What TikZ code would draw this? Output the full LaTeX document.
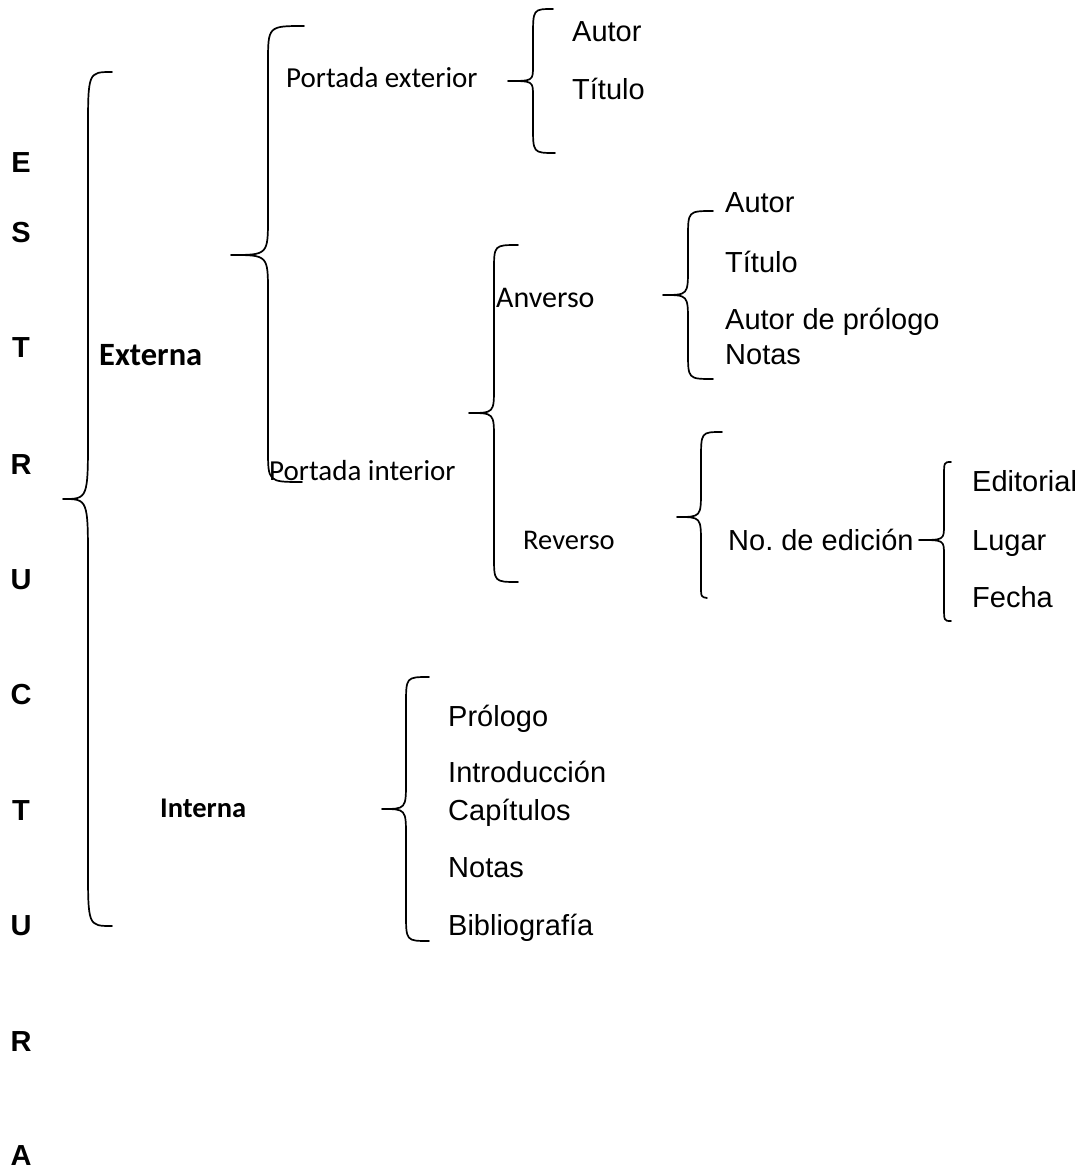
\documentclass[tikz,border=0pt]{standalone}
\usepackage{fontspec}
\setmainfont{Liberation Sans}
\newfontfamily\gillfont{Carlito}
\usepackage{tikz}
\usetikzlibrary{positioning}
\frenchspacing

\begin{document}
\begin{tikzpicture}[
    x=1pt, y=-1pt,
    letter/.style={inner sep=0pt, font=\fontsize{29}{31}\selectfont\bfseries},
    entry/.style={inner sep=0pt, anchor=base west, font=\fontsize{29}{31}\selectfont},
    head/.style={inner sep=0pt, anchor=base west, font=\gillfont\fontsize{29}{31}\selectfont},
    headbold/.style={head, font=\gillfont\fontsize{32.5}{34}\selectfont\bfseries},
    bracepath/.style={line width=1.7pt, line cap=round, line join=round}
  ]
    \useasboundingbox (0,0) rectangle (1082,1174);

    % Vertical title
    \node[letter] (e1) at (21,163) {E};
    \node[letter] (s1) at (21,233) {S};
    \node[letter] (t1) at (21,348) {T};
    \node[letter] (r1) at (21,465) {R};
    \node[letter] (u1) at (21,580) {U};
    \node[letter] (c1) at (21,695) {C};
    \node[letter] (t2) at (21,811) {T};
    \node[letter] (u2) at (21,926) {U};
    \node[letter] (r2) at (21,1042) {R};
    \node[letter] (a1) at (21,1156) {A};

    % Main branches
    \node[headbold] (externa) at (99,365) {Externa};
    \node[headbold, font=\gillfont\fontsize{28.5}{30}\selectfont\bfseries] (interna) at (160,817) {Interna};

    % Externa
    \node[head] (pext) at (286,88) {Portada exterior};
    \node[head] (pint) at (269,480) {Portada interior};
    \node[entry] (autor1) at (572,42) {Autor};
    \node[entry] (titulo1) at (572,100) {Título};

    % Portada interior
    \node[head, font=\gillfont\fontsize{30}{32}\selectfont] (anverso) at (496,307) {Anverso};
    \node[head, font=\gillfont\fontsize{28.5}{30}\selectfont] (reverso) at (523,549) {Reverso};
    \node[entry] (autor2) at (725,213) {Autor};
    \node[entry] (titulo2) at (725,272) {Título};
    \node[entry] (aprologo) at (725,329) {Autor de prólogo};
    \node[entry] (notas1) at (725,364) {Notas};
    \node[entry] (edicion) at (728,550) {No. de edición};
    \node[entry] (editorial) at (972,491) {Editorial};
    \node[entry] (lugar) at (972,550) {Lugar};
    \node[entry] (fecha) at (972,607) {Fecha};

    % Interna
    \node[entry] (prologo) at (448,726) {Prólogo};
    \node[entry] (intro) at (448,782) {Introducción};
    \node[entry] (capitulos) at (448,820) {Capítulos};
    \node[entry] (notas2) at (448,877) {Notas};
    \node[entry] (biblio) at (448,935) {Bibliografía};

    % Braces
    \draw[bracepath] (112,72) .. controls (88,72) .. (88,132) -- (88,434)
      .. controls (88,499) .. (63,499) .. controls (88,499) .. (88,564)
      -- (88,866) .. controls (88,926) .. (112,926);
    \draw[bracepath] (304,26) .. controls (268,26) .. (268,63) -- (268,217)
      .. controls (268,255) .. (231,255) .. controls (268,255) .. (268,293)
      -- (268,449) .. controls (268,482) .. (302,482);
    \draw[bracepath] (553,9) .. controls (533,9) .. (533,37) -- (533,66)
      .. controls (533,81) .. (508,81) .. controls (533,81) .. (533,96)
      -- (533,126) .. controls (533,153) .. (555,153);
    \draw[bracepath] (518,245) .. controls (494,245) .. (494,271) -- (494,387)
      .. controls (494,413) .. (469,413) .. controls (494,413) .. (494,439)
      -- (494,556) .. controls (494,582) .. (518,582);
    \draw[bracepath] (713,211) .. controls (688,211) .. (688,238) -- (688,268)
      .. controls (688,295) .. (663,295) .. controls (688,295) .. (688,322)
      -- (688,352) .. controls (688,379) .. (713,379);
    \draw[bracepath] (722,432) .. controls (701,432) .. (701,460) -- (701,490)
      .. controls (701,517) .. (677,517) .. controls (701,517) .. (701,544)
      -- (701,585) .. controls (701,597) .. (707,598);
    \draw[bracepath] (951,462) .. controls (944,462) .. (944,477) -- (944,525)
      .. controls (944,540) .. (919,540) .. controls (944,540) .. (944,555)
      -- (944,606) .. controls (944,621) .. (951,621);
    \draw[bracepath] (429,677) .. controls (406,677) .. (406,705) -- (406,781)
      .. controls (406,809) .. (382,809) .. controls (406,809) .. (406,837)
      -- (406,913) .. controls (406,941) .. (429,941);
  \end{tikzpicture}
\end{document}
